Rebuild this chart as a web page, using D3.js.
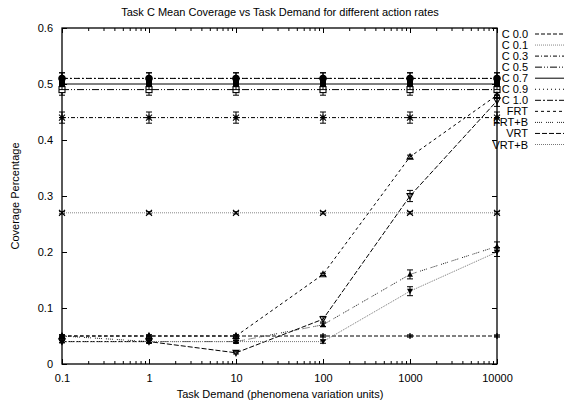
<!DOCTYPE html>
<html>
<head>
<meta charset="utf-8">
<script src="https://cdn.jsdelivr.net/npm/d3@7/dist/d3.min.js"></script>
<style>
  html, body { margin: 0; padding: 0; background: #fff; }
  svg { display: block; font-family: "Liberation Sans", Arial, sans-serif; }
</style>
</head>
<body>
<svg id="chart" width="564" height="403"></svg>
<script>
// Task demand levels (x, log scale)
const demand = [0.1, 1, 10, 100, 1000, 10000];

// Mean coverage per action-rate strategy
const seriesNames = ["C 0.0", "C 0.1", "C 0.3", "C 0.5", "C 0.7", "C 0.9", "C 1.0", "FRT", "FRT+B", "VRT", "VRT+B"];
const c00  = [0.05, 0.05, 0.05, 0.05, 0.05, 0.05];
const c01  = [0.27, 0.27, 0.27, 0.27, 0.27, 0.27];
const c03  = [0.44, 0.44, 0.44, 0.44, 0.44, 0.44];
const c05  = [0.49, 0.49, 0.49, 0.49, 0.49, 0.49];
const c07  = [0.50, 0.50, 0.50, 0.50, 0.50, 0.50];
const c09  = [0.51, 0.51, 0.51, 0.51, 0.51, 0.51];
const c10  = [0.51, 0.51, 0.51, 0.51, 0.51, 0.51];
const frt  = [0.05, 0.05, 0.05, 0.16, 0.37, 0.48];
const frtb = [0.05, 0.04, 0.04, 0.07, 0.16, 0.21];
const vrt  = [0.04, 0.04, 0.02, 0.08, 0.30, 0.47];
const vrtb = [0.04, 0.04, 0.04, 0.04, 0.13, 0.20];

// Standard error (half-length of the error bars)
const c00Err  = [0.002, 0.002, 0.002, 0.002, 0.002, 0.002];
const c01Err  = [0.002, 0.002, 0.002, 0.002, 0.002, 0.002];
const c03Err  = [0.01, 0.01, 0.01, 0.01, 0.01, 0.01];
const c05Err  = [0.01, 0.01, 0.01, 0.01, 0.01, 0.01];
const c07Err  = [0.01, 0.01, 0.01, 0.01, 0.01, 0.01];
const c09Err  = [0.01, 0.01, 0.01, 0.01, 0.01, 0.01];
const c10Err  = [0.01, 0.01, 0.01, 0.01, 0.01, 0.01];
const frtErr  = [0.002, 0.002, 0.002, 0.002, 0.003, 0.005];
const frtbErr = [0.002, 0.002, 0.002, 0.003, 0.008, 0.008];
const vrtErr  = [0.002, 0.002, 0.002, 0.005, 0.01, 0.01];
const vrtbErr = [0.002, 0.002, 0.002, 0.003, 0.008, 0.008];

const xTickValues = [0.1, 1, 10, 100, 1000, 10000];
const xTickLabels = ["0.1", "1", "10", "100", "1000", "10000"];
const yTickValues = [0, 0.1, 0.2, 0.3, 0.4, 0.5, 0.6];
const yTickLabels = ["0", "0.1", "0.2", "0.3", "0.4", "0.5", "0.6"];

const titleText = "Task C Mean Coverage vs Task Demand for different action rates";
const xLabelText = "Task Demand (phenomena variation units)";
const yLabelText = "Coverage Percentage";

// Line style and point symbol per series (gnuplot-like dashed set)
const styles = [
  { dash: "4,2",             color: "#000", sym: "plus" },
  { dash: "1,1",             color: "#888", sym: "cross" },
  { dash: "4,2,1,2",         color: "#000", sym: "star" },
  { dash: "7,2,1,2,1,2",     color: "#000", sym: "box" },
  { dash: null,              color: "#000", sym: "boxFilled" },
  { dash: "1,3",             color: "#000", sym: "circle" },
  { dash: "6,2,2,2",         color: "#000", sym: "circleFilled" },
  { dash: "3,3",             color: "#000", sym: "triangle" },
  { dash: "1,1,1,1,1,1,1,4", color: "#222", sym: "triangleFilled" },
  { dash: "5,2",             color: "#000", sym: "triangleDown" },
  { dash: "1,1",             color: "#777", sym: "triangleDownFilled" }
];

const values = [c00, c01, c03, c05, c07, c09, c10, frt, frtb, vrt, vrtb];
const errors = [c00Err, c01Err, c03Err, c05Err, c07Err, c09Err, c10Err, frtErr, frtbErr, vrtErr, vrtbErr];

const series = seriesNames.map((name, i) => ({
  name,
  style: styles[i],
  points: demand.map((d, j) => ({ x: d, y: values[i][j], e: errors[i][j] }))
}));

const svg = d3.select("#chart");
const margin = { left: 62, right: 497, top: 28, bottom: 364 };

const x = d3.scaleLog().domain([0.1, 10000]).range([margin.left, margin.right]);
const y = d3.scaleLinear().domain([0, 0.6]).range([margin.bottom, margin.top]);

const fontSize = 11;

// Title and axis labels
svg.append("text").attr("x", 280).attr("y", 16).attr("text-anchor", "middle")
  .attr("font-size", fontSize).text(titleText);
svg.append("text").attr("x", 280).attr("y", 398).attr("text-anchor", "middle")
  .attr("font-size", fontSize).text(xLabelText);
svg.append("text").attr("transform", "translate(19,196) rotate(-90)").attr("text-anchor", "middle")
  .attr("font-size", fontSize).text(yLabelText);

// Minor tick positions on the log axis
const minorTicks = [];
for (let dec = 0.1; dec < 10000; dec *= 10) {
  for (let k = 2; k <= 9; k++) minorTicks.push(+(dec * k).toPrecision(3));
}

function styleAxis(g) {
  g.select(".domain").remove();
  g.selectAll(".tick line").attr("stroke", "#000").attr("stroke-width", 1);
  g.selectAll(".tick text").attr("font-size", fontSize).attr("fill", "#000")
    .attr("font-family", "Liberation Sans, Arial, sans-serif");
}

// Bottom axis (ticks point inward)
svg.append("g").attr("transform", `translate(0,${margin.bottom})`)
  .call(d3.axisBottom(x).tickValues(xTickValues).tickSize(-5).tickPadding(10)
    .tickFormat((d, i) => xTickLabels[i]))
  .call(styleAxis);
svg.append("g").attr("transform", `translate(0,${margin.bottom})`)
  .call(d3.axisBottom(x).tickValues(minorTicks).tickSize(-3).tickFormat(""))
  .call(styleAxis);
// Top mirror
svg.append("g").attr("transform", `translate(0,${margin.top})`)
  .call(d3.axisTop(x).tickValues(xTickValues).tickSize(-5).tickFormat(""))
  .call(styleAxis);
svg.append("g").attr("transform", `translate(0,${margin.top})`)
  .call(d3.axisTop(x).tickValues(minorTicks).tickSize(-3).tickFormat(""))
  .call(styleAxis);
// Left axis
svg.append("g").attr("transform", `translate(${margin.left},0)`)
  .call(d3.axisLeft(y).tickValues(yTickValues).tickSize(-5).tickPadding(9)
    .tickFormat((d, i) => yTickLabels[i]))
  .call(styleAxis);
// Right mirror
svg.append("g").attr("transform", `translate(${margin.right},0)`)
  .call(d3.axisRight(y).tickValues(yTickValues).tickSize(-5).tickFormat(""))
  .call(styleAxis);

// Plot border
svg.append("rect")
  .attr("x", margin.left).attr("y", margin.top)
  .attr("width", margin.right - margin.left).attr("height", margin.bottom - margin.top)
  .attr("fill", "none").attr("stroke", "#000").attr("stroke-width", 1.3);

// Point symbols
function drawSymbol(g, sym, cx, cy) {
  const s = 3;
  const col = "#000";
  switch (sym) {
    case "plus":
      g.append("path").attr("d", `M${cx - s},${cy}H${cx + s}M${cx},${cy - s}V${cy + s}`)
        .attr("stroke", col).attr("stroke-width", 1.2);
      break;
    case "cross":
      g.append("path").attr("d", `M${cx - s},${cy - s}L${cx + s},${cy + s}M${cx - s},${cy + s}L${cx + s},${cy - s}`)
        .attr("stroke", col).attr("stroke-width", 1.2);
      break;
    case "star":
      g.append("path").attr("d", `M${cx - s},${cy}H${cx + s}M${cx},${cy - s}V${cy + s}M${cx - s},${cy - s}L${cx + s},${cy + s}M${cx - s},${cy + s}L${cx + s},${cy - s}`)
        .attr("stroke", col).attr("stroke-width", 1.1);
      break;
    case "box":
      g.append("rect").attr("x", cx - s).attr("y", cy - s).attr("width", 2 * s).attr("height", 2 * s)
        .attr("fill", "#fff").attr("stroke", col).attr("stroke-width", 1.1);
      break;
    case "boxFilled":
      g.append("rect").attr("x", cx - s).attr("y", cy - s).attr("width", 2 * s).attr("height", 2 * s)
        .attr("fill", col);
      break;
    case "circle":
      g.append("circle").attr("cx", cx).attr("cy", cy).attr("r", s)
        .attr("fill", "#fff").attr("stroke", col).attr("stroke-width", 1.1);
      break;
    case "circleFilled":
      g.append("circle").attr("cx", cx).attr("cy", cy).attr("r", s + 0.5).attr("fill", col);
      break;
    case "triangle":
      g.append("path").attr("d", `M${cx},${cy - s}L${cx + s},${cy + s * 0.8}L${cx - s},${cy + s * 0.8}Z`)
        .attr("fill", "none").attr("stroke", col).attr("stroke-width", 1.1);
      break;
    case "triangleFilled":
      g.append("path").attr("d", `M${cx},${cy - s}L${cx + s},${cy + s * 0.8}L${cx - s},${cy + s * 0.8}Z`)
        .attr("fill", col);
      break;
    case "triangleDown":
      g.append("path").attr("d", `M${cx},${cy + s}L${cx + s},${cy - s * 0.8}L${cx - s},${cy - s * 0.8}Z`)
        .attr("fill", "none").attr("stroke", col).attr("stroke-width", 1.1);
      break;
    case "triangleDownFilled":
      g.append("path").attr("d", `M${cx},${cy + s}L${cx + s},${cy - s * 0.8}L${cx - s},${cy - s * 0.8}Z`)
        .attr("fill", col);
      break;
  }
}

const line = d3.line().x(d => x(d.x)).y(d => y(d.y));
const plot = svg.append("g");

series.forEach(s => {
  const g = plot.append("g");
  g.append("path").datum(s.points).attr("d", line)
    .attr("fill", "none").attr("stroke", s.style.color).attr("stroke-width", 1)
    .attr("stroke-dasharray", s.style.dash);
  // Error bars
  s.points.forEach(p => {
    const px = x(p.x), y1 = y(p.y + p.e), y2 = y(p.y - p.e);
    g.append("path")
      .attr("d", `M${px},${y1}V${y2}M${px - 3},${y1}H${px + 3}M${px - 3},${y2}H${px + 3}`)
      .attr("stroke", "#000").attr("stroke-width", 1).attr("fill", "none");
  });
  s.points.forEach(p => drawSymbol(g, s.style.sym, x(p.x), y(p.y)));
});

// Legend: right-aligned names with a line sample
const legend = svg.append("g");
series.forEach((s, i) => {
  const ly = 34 + i * 11.05;
  legend.append("text").attr("x", 528).attr("y", ly + 4).attr("text-anchor", "end")
    .attr("font-size", fontSize).text(s.name);
  legend.append("line").attr("x1", 535).attr("x2", 564).attr("y1", ly).attr("y2", ly)
    .attr("stroke", s.style.color).attr("stroke-width", 1)
    .attr("stroke-dasharray", s.style.dash);
});
</script>
</body>
</html>
